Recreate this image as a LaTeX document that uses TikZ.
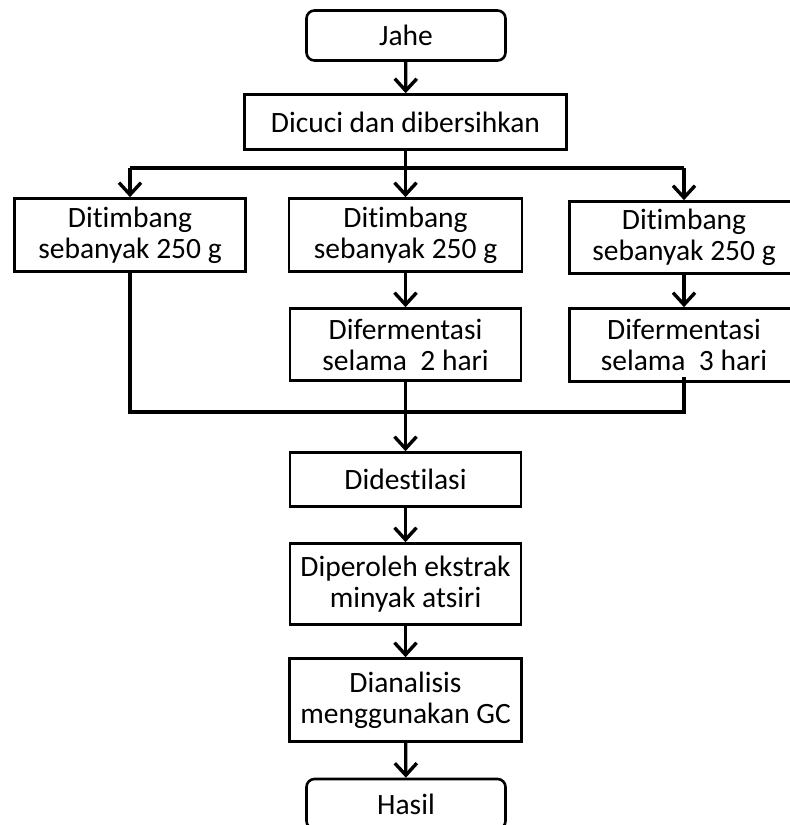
\documentclass[tikz,border=0pt]{standalone}
\usepackage{fontspec}
\setmainfont{Carlito}[RawFeature={-liga;-clig;-dlig}]
\usetikzlibrary{arrows.meta}
\tikzset{
  box/.style={draw=black, line width=2.6pt, fill=white, inner sep=0pt, align=center,
    font=\fontsize{29.5}{31}\selectfont},
  rbox/.style={box, rounded corners=8pt},
  conn/.style={draw=black, line width=3.2pt},
  arr/.style={conn, -{Straight Barb[length=12pt,width=22pt,line width=3.4pt]}}
}
\begin{document}
\begin{tikzpicture}[x=1pt,y=-1pt]
\useasboundingbox (0,0) rectangle (790,825);
\clip (0,0) rectangle (790,825);
\node[rbox, minimum width=199pt, minimum height=50pt] (jahe) at (406,35.5) {Jahe};
\node[box, minimum width=322pt, minimum height=55pt] (dicuci) at (405.5,122) {Dicuci dan dibersihkan};
\node[box, minimum width=231pt, minimum height=73pt] (t1) at (130,235) {Ditimbang\\sebanyak 250 g};
\node[box, minimum width=233pt, minimum height=73pt] (t2) at (405.5,235) {Ditimbang\\sebanyak 250 g};
\node[box, minimum width=229pt, minimum height=72pt] (t3) at (684,237.5) {Ditimbang\\sebanyak 250 g};
\node[box, minimum width=231pt, minimum height=72pt] (f2) at (405.5,344.5) {Difermentasi\\selama\ \ 2 hari};
\node[box, minimum width=229pt, minimum height=73pt] (f3) at (684,345) {Difermentasi\\selama\ \ 3 hari};
\node[box, minimum width=231pt, minimum height=54pt] (dest) at (405.5,479.5) {Didestilasi};
\node[box, minimum width=231pt, minimum height=81pt] (dip) at (405.5,584) {Diperoleh ekstrak\\minyak atsiri};
\node[box, minimum width=232pt, minimum height=83pt] (dian) at (405.5,700) {Dianalisis\\menggunakan GC};
\node[rbox, minimum width=199pt, minimum height=50pt] (hasil) at (406,804) {Hasil};

\coordinate (split) at (405.5,168);
\coordinate (merge) at (405.5,412);

\draw[arr] (jahe) -- (dicuci);
\draw[conn] (dicuci) -- (split);
\draw[conn] (t1.north |- split) -- (t3.north |- split);
\draw[arr] (t1.north |- split) -- (t1.north);
\draw[arr] (split) -- (t2.north);
\draw[arr] (t3.north |- split) -- (t3.north);
\draw[arr] (t2) -- (f2);
\draw[arr] (t3) -- (f3);
\draw[conn] (t1.south) -- (t1.south |- merge) -- (f3.south |- merge) -- ([yshift=6pt]f3.south);
\draw[conn] (f2) -- (merge);
\draw[arr] (merge) -- (dest);
\draw[arr] (dest) -- (dip);
\draw[arr] (dip) -- (dian);
\draw[arr] (dian) -- (hasil);
\end{tikzpicture}
\end{document}
